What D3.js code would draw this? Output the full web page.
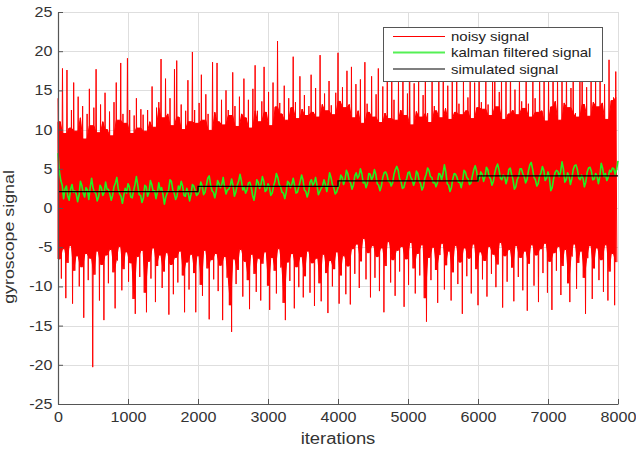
<!DOCTYPE html>
<html>
<head>
<meta charset="utf-8">
<script src="https://cdn.jsdelivr.net/npm/d3@7"></script>
<style>
  html, body { margin: 0; padding: 0; background: #fff; }
  svg { display: block; font-family: "Liberation Sans", Arial, Helvetica, sans-serif; }
</style>
</head>
<body>
<script>
// ---------------- DATA ----------------
const xTicks = [0, 1000, 2000, 3000, 4000, 5000, 6000, 7000, 8000];
const yTicks = [-25, -20, -15, -10, -5, 0, 5, 10, 15, 20, 25];
const seriesNames = ["noisy signal", "kalman filtered signal", "simulated signal"];

// noisy signal: local maxima / minima (every 32 iterations, high then low)
const noisyHigh = [
  14, 11, 17.8, 9.5, 17.6, 10.2, 12.5, 16, 9.8, 14.2,
  11.5, 13, 8.8, 12, 15.2, 10.5, 12.8, 17.7, 9.6, 13.2,
  11, 14.7, 10, 12.3, 9.2, 13.5, 16, 11.2, 18.5, 12,
  10.8, 19.1, 12.5, 9.5, 11.8, 14, 10.2, 12.6, 11.9, 9.8,
  12.5, 11, 15.5, 10.3, 12.8, 13.5, 19, 11.5, 16.5, 12,
  14, 10.5, 17.7, 18.8, 11.6, 13.2, 10, 12.4, 16.3, 11,
  19.9, 12.5, 10.8, 13.4, 17, 11.2, 14.5, 12, 9.9, 18.6,
  12.2, 18.5, 11, 13.8, 10.6, 15, 12.5, 11.8, 17.3, 13,
  10.4, 14.2, 12, 16.5, 11.5, 13.8, 10.2, 15.2, 18.2, 12.4,
  11, 13.6, 18, 12.2, 14.8, 10.5, 16, 12.9, 21.3, 13.4,
  12, 15.6, 11.2, 14, 12.8, 19.3, 13.5, 11.4, 16.8, 12.6,
  14.4, 11.8, 13, 17, 12.2, 15.3, 11.6, 19.5, 13.2, 14.6,
  12.4, 16.2, 13.1, 11.9, 14.7, 19.8, 13.6, 15.4, 12.8, 17.5,
  13.2, 18, 11.5, 15.8, 12.4, 16.4, 10.8, 18.6, 13.3, 12.2,
  16.8, 11.6, 14.5, 17.8, 10.9, 15.5, 12.1, 16.9, 11.4, 18.2,
  13.8, 11.2, 16.5, 12.5, 19.2, 11.8, 14.6, 17.2, 10.6, 15.9,
  12.3, 16.8, 11.6, 14.4, 19.6, 12.1, 10.9, 17.6, 13, 12.4,
  16.2, 11.5, 18.1, 12.7, 15.6, 11.3, 17, 12.2, 19, 13.3,
  11.9, 16.6, 12.4, 14.1, 17.9, 11.4, 16, 12.8, 18.4, 13.5,
  12.6, 17.3, 13.2, 11.8, 16.7, 19.4, 12.9, 14.8, 17.1, 11.3,
  16.4, 12, 18.7, 12.5, 15.1, 11.9, 17.4, 13.6, 12.7, 19.1,
  13.3, 11.6, 17.7, 14, 12.2, 18.3, 12.4, 16.6, 11.1, 17.2,
  12.9, 19.8, 13.6, 16.8, 11.2, 17.5, 13.4, 18.1, 12.8, 15.3,
  17.8, 12.1, 11.6, 16.9, 19.6, 13.2, 15.4, 11.7, 18, 13.5,
  16.2, 12.9, 17.6, 13.4, 15.8, 11.3, 18.9, 13.7, 14.1, 17.4
];
const noisyLow = [
  -6.5, -9, -5.2, -11.5, -7, -4.8, -12.2, -8, -6.1, -10,
  -7.5, -14, -5.8, -9.2, -6.4, -20.3, -8.5, -5.5, -11.8, -7.2,
  -14.3, -6, -9.6, -5.3, -8.2, -12.8, -6.7, -4.9, -10.5, -7.8,
  -5.6, -9.4, -7, -11.6, -13.5, -6.2, -8.8, -5.4, -10.8, -13.3,
  -6.8, -9, -5.1, -12, -7.4, -6, -10.2, -8.1, -5.7, -13.6,
  -7.2, -11, -6.3, -9.5, -5.5, -8.6, -13.3, -6.9, -10.4, -5.9,
  -8.3, -13.3, -6.1, -9.8, -11.2, -5.4, -7.7, -14.2, -6.6, -9.1,
  -5.8, -10.6, -7.3, -14.3, -6.2, -8.9, -12.4, -15.8, -6.5, -9.7,
  -7.9, -5.3, -11.3, -6.8, -9.2, -12.9, -5.9, -8.4, -10.7, -6.4,
  -11.8, -7.1, -5.6, -9.9, -13, -6.3, -8, -10.9, -5.2, -7.6,
  -12.1, -14.3, -6.9, -9.3, -5.8, -12.8, -7.5, -10.1, -6.2, -11.4,
  -8.7, -5.5, -10.8, -7, -12.5, -6.4, -9.6, -11.9, -5.9, -8.3,
  -13.4, -6.7, -10, -7.8, -5.6, -12.2, -8.6, -6.1, -11, -7.4,
  -12.3, -5.2, -8.4, -4.6, -10.2, -6.8, -3.9, -9.1, -5.7, -11.4,
  -4.8, -8.9, -6.2, -10.6, -5.1, -13.3, -7.4, -4.3, -9.5, -6.6,
  -11.2, -5.4, -8.1, -4.9, -12.6, -6.5, -9.8, -4.4, -7.7, -10.9,
  -5.8, -8.6, -4.7, -11.5, -14.5, -6.3, -9.2, -5, -7.9, -12.1,
  -6, -4.5, -10.4, -7.3, -5.5, -11.8, -8.2, -4.8, -9.7, -6.9,
  -13.5, -5.1, -8.7, -6.4, -10.9, -4.6, -7.8, -12.4, -5.6, -9.1,
  -6.7, -11.3, -4.9, -8.4, -5.9, -10.1, -7.2, -4.4, -12.7, -6.1,
  -9.4, -5.3, -7.6, -11.9, -4.8, -8.8, -6.3, -10.5, -5.5, -13.1,
  -7.1, -4.7, -9.9, -6, -12, -5.2, -8.3, -4.5, -10.8, -6.8,
  -13, -5.7, -8, -4.9, -11.1, -7.4, -5.3, -9.6, -12, -6.2,
  -4.6, -10.3, -7, -5.5, -8.9, -13.5, -6.4, -4.8, -11.6, -7.7,
  -5.1, -9.2, -6.6, -10.7, -4.7, -11.8, -8.1, -5.8, -12.4, -6.9
];

// kalman filtered signal at iterations 0, 40, 80, ... 8000
const kalman = [
  7, 3.5, 1.2, 2.8, 1.0, 3.0, 2.2, 0.8, 3.4, 1.9,
  2.6, 1.1, 3.8, 2.0, 0.9, 2.9, 1.6, 3.3, 2.4, 1.0,
  2.7, 3.9, 1.8, 0.6, 2.5, 3.1, 1.4, 2.2, 4.0, 1.7,
  0.7, 2.9, 1.5, 3.5, 2.1, 1.2, 3.2, 2.6, 0.5, 1.9,
  3.6, 2.3, 1.1, 2.8, 3.4, 1.6, 2.5, 0.9, 3.0, 2.2,
  1.8,
  3.3, 1.7, 2.9, 4.1, 2.2, 1.3, 3.5, 2.6, 3.9, 1.8,
  2.4, 3.7, 1.5, 2.9, 4.3, 2.3, 1.9, 3.2, 2.7, 1.0,
  3.6, 2.5, 4.0, 2.1, 3.1, 1.6, 2.8, 4.4, 3.0, 2.0,
  1.2, 3.4, 2.6, 3.8, 1.9, 2.7, 4.2, 2.3, 1.4, 3.3,
  2.9, 3.9, 1.7, 2.5, 3.6, 2.1, 4.5, 3.0, 1.8, 2.6,
  4.2, 3.0, 4.8, 3.5, 2.4, 4.1, 3.8, 5.0, 3.2, 2.6,
  4.4, 3.6, 4.9, 3.1, 2.2, 3.9, 4.6, 3.4, 2.8, 4.3,
  5.3, 3.7, 2.5, 3.3, 4.5, 3.9, 2.9, 4.7, 3.5, 2.3,
  3.8, 5.1, 4.0, 3.2, 2.7, 4.4, 3.6, 5.5, 3.1, 2.1,
  3.7, 4.3, 3.3, 2.6, 4.8, 3.9, 3.0, 4.1, 5.4, 3.4,
  4.6, 3.4, 5.2, 4.0, 2.9, 4.5, 5.6, 3.8, 4.2, 3.1,
  4.9, 4.3, 2.4, 3.6, 5.0, 4.4, 3.2, 4.7, 5.8, 3.9,
  2.8, 4.1, 5.3, 3.5, 4.6, 2.2, 3.7, 4.8, 4.0, 5.9,
  3.3, 4.5, 3.0, 4.9, 5.5, 3.8, 4.2, 2.7, 4.6, 5.2,
  3.6, 4.4, 3.1, 5.7, 4.0, 3.5, 4.8, 5.1, 4.3, 6.0
];
// kalman filtered signal at iterations 20, 60, 100, ... 7980
const kalmanMid = [
  4.6, 2.9, 2.4, 1.5, 2.4, 2.0, 1.8, 1.6, 2.9, 1.4,
  2.3, 2.6, 2.6, 1.9, 1.4, 2.6, 2.0, 2.4, 1.8, 1.6,
  3.2, 2.5, 1.5, 1.6, 1.9, 2.7, 1.3, 3.0, 2.9, 1.6,
  1.3, 2.7, 2.0, 3.0, 2.2, 2.0, 2.3, 1.7, 1.4, 2.3,
  3.4, 1.9, 1.5, 2.4, 2.8, 1.5, 1.9, 1.7, 2.8, 1.6,
  2.2, 2.8, 2.0, 3.8, 3.0, 2.0, 2.1, 3.1, 3.0, 2.7,
  2.3, 2.8, 2.9, 2.0, 3.4, 3.5, 2.6, 2.3, 3.3, 1.6,
  2.1, 3.3, 3.0, 3.4, 2.3, 2.7, 1.9, 3.4, 3.9, 2.7,
  1.9, 2.0, 3.2, 3.0, 2.9, 2.0, 3.4, 3.6, 2.1, 2.0,
  3.6, 3.2, 2.9, 2.1, 2.8, 3.0, 3.2, 3.9, 2.6, 2.0,
  3.1, 3.9, 3.6, 4.4, 3.2, 2.9, 4.5, 4.1, 4.4, 3.4,
  3.1, 4.3, 4.0, 4.3, 2.9, 2.8, 4.5, 4.2, 3.4, 3.2,
  4.9, 4.8, 3.4, 2.6, 3.7, 4.6, 3.6, 3.4, 4.4, 3.1,
  2.7, 4.3, 4.8, 3.9, 3.3, 3.2, 4.3, 4.4, 4.6, 2.9,
  2.6, 4.4, 3.9, 3.3, 3.4, 4.6, 3.7, 3.2, 4.9, 4.7,
  3.8, 4.3, 4.0, 4.9, 3.7, 3.4, 5.2, 4.9, 3.6, 4.0,
  3.7, 5.1, 3.6, 2.7, 4.0, 5.0, 4.0, 3.6, 5.5, 5.0,
  3.6, 3.1, 4.5, 4.8, 3.8, 3.9, 2.6, 4.5, 4.7, 4.6,
  5.0, 3.6, 4.1, 3.7, 5.4, 4.9, 3.6, 3.8, 3.3, 5.1,
  4.7, 3.7, 4.1, 4.0, 5.1, 4.4, 3.9, 4.6, 5.0, 4.9
];

// simulated signal: piecewise constant levels
const simIter   = [0, 2000, 4000, 6000, 8000];
const simLevels = [2.1, 2.75, 3.45, 4.1, 4.1];

// ---------------- CHART ----------------
const W = 636, H = 450;
const svg = d3.select("body").append("svg").attr("width", W).attr("height", H);

const x = d3.scaleLinear().domain([0, 8000]).range([58, 618]);
const y = d3.scaleLinear().domain([-25, 25]).range([404, 12]);

// grid
const grid = svg.append("g").attr("stroke", "#dedede").attr("stroke-width", 1);
grid.selectAll("line.gx").data(xTicks).enter().append("line")
  .attr("x1", d => Math.round(x(d)) + 0.5).attr("x2", d => Math.round(x(d)) + 0.5)
  .attr("y1", y(-25)).attr("y2", y(25));
grid.selectAll("line.gy").data(yTicks).enter().append("line")
  .attr("y1", d => Math.round(y(d)) + 0.5).attr("y2", d => Math.round(y(d)) + 0.5)
  .attr("x1", x(0)).attr("x2", x(8000));

// noisy signal: dense core (where the trace is drawn over and over) + the trace itself
const nH = noisyHigh.length;
const core = d3.range(nH).map(k => {
  const hPrev = noisyHigh[Math.max(k - 1, 0)], hNext = noisyHigh[Math.min(k + 1, nH - 1)];
  const lPrev = noisyLow[Math.max(k - 1, 0)], lCur = noisyLow[k];
  return {
    t: k * 32,
    top: Math.min(hPrev, noisyHigh[k], hNext),
    bot: Math.max(lPrev, lCur)
  };
});
svg.append("path").datum(core)
  .attr("fill", "#ff0000").attr("stroke", "#ff0000").attr("stroke-width", 1)
  .attr("d", d3.area().x(d => x(d.t)).y0(d => y(d.bot)).y1(d => y(d.top)));

const noisyPts = [];
noisyHigh.forEach((h, i) => {
  noisyPts.push([i * 32, h]);
  noisyPts.push([i * 32 + 16, noisyLow[i]]);
});
const line = d3.line().x(d => x(d[0])).y(d => y(d[1]));
svg.append("path").datum(noisyPts)
  .attr("fill", "none").attr("stroke", "#ff0000").attr("stroke-width", 1)
  .attr("d", line);

// kalman
const kalPts = [];
kalman.forEach((v, i) => {
  kalPts.push([i * 40, v]);
  if (i < kalmanMid.length) kalPts.push([i * 40 + 20, kalmanMid[i]]);
});
svg.append("path").datum(kalPts)
  .attr("fill", "none").attr("stroke", "#22f022").attr("stroke-width", 1.6)
  .attr("stroke-linejoin", "round")
  .attr("d", line);

// simulated
const simPts = simIter.map((t, i) => [t, simLevels[i]]);
svg.append("path").datum(simPts)
  .attr("fill", "none").attr("stroke", "#000").attr("stroke-width", 1.3)
  .attr("d", d3.line().x(d => x(d[0])).y(d => y(d[1])).curve(d3.curveStepAfter));

// axes
const axisColor = "#555";
const gx = svg.append("g").attr("transform", `translate(0,${y(-25)})`)
  .call(d3.axisBottom(x).tickValues(xTicks).tickFormat(d3.format("d"))
    .tickSizeInner(-5).tickSizeOuter(0).tickPadding(8));
const gy = svg.append("g").attr("transform", `translate(${x(0)},0)`)
  .call(d3.axisLeft(y).tickValues(yTicks).tickFormat(d3.format("d"))
    .tickSizeInner(-5).tickSizeOuter(0).tickPadding(5.5));
[gx, gy].forEach(g => {
  g.select(".domain").attr("stroke", axisColor).attr("stroke-width", 1.2);
  g.selectAll(".tick line").attr("stroke", axisColor);
  g.selectAll(".tick text").attr("fill", "#333").attr("font-size", 14)
    .attr("font-family", "'Liberation Sans', Arial, sans-serif");
});
gy.selectAll(".tick text").text(d => String(d).replace("\u2212", "-"));

// axis titles
svg.append("text").attr("x", 338).attr("y", 444).attr("text-anchor", "middle")
  .attr("font-size", 16).attr("fill", "#333").text("iterations");
svg.append("text").attr("transform", "translate(14,237) rotate(-90)")
  .attr("text-anchor", "middle").attr("font-size", 15.5).attr("fill", "#333")
  .text("gyroscope signal");

// legend
const leg = svg.append("g");
leg.append("rect").attr("x", 383.5).attr("y", 27.5).attr("width", 219).attr("height", 54)
  .attr("fill", "#fff").attr("stroke", "#555").attr("stroke-width", 1);
const legColors = ["#ff0000", "#55f055", "#000"];
const legWidths = [1, 2, 1.2];
const legY = [36.5, 52.5, 69];
seriesNames.forEach((name, i) => {
  leg.append("line").attr("x1", 393).attr("x2", 445).attr("y1", legY[i]).attr("y2", legY[i])
    .attr("stroke", legColors[i]).attr("stroke-width", legWidths[i]);
  leg.append("text").attr("x", 451).attr("y", legY[i]).attr("dy", "0.35em")
    .attr("font-size", 13).attr("fill", "#222").text(name);
});

// the reference text is slightly wide: stretch glyphs horizontally
svg.selectAll("text").each(function () {
  const w = this.getComputedTextLength();
  d3.select(this).attr("textLength", w * 1.15).attr("lengthAdjust", "spacingAndGlyphs");
});
</script>
</body>
</html>
